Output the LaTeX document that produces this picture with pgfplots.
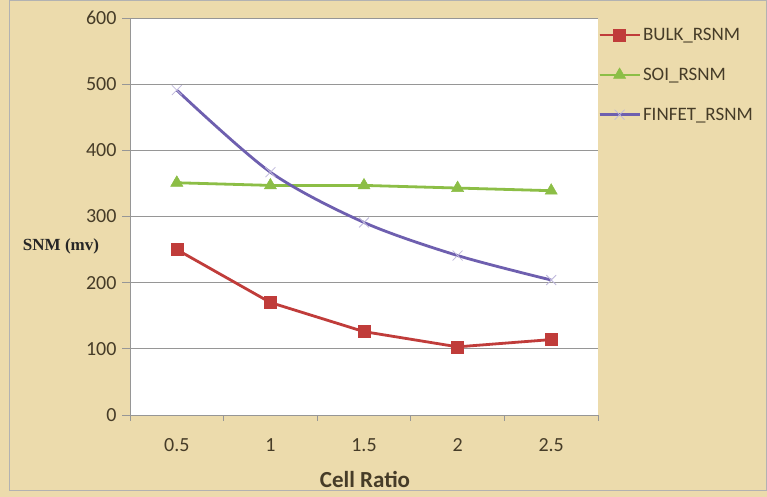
\documentclass[border=0pt]{standalone}
\usepackage{pgfplots}
\pgfplotsset{compat=1.18}
\usepackage{fontspec}
\setmainfont{Carlito}
\newfontfamily\serifb{Liberation Serif}
\definecolor{parch}{RGB}{236,219,172}
\definecolor{bulk}{RGB}{192,60,58}
\definecolor{soi}{RGB}{140,190,70}
\definecolor{finfet}{RGB}{110,95,175}
\definecolor{gridc}{RGB}{150,150,150}
\definecolor{txt}{RGB}{70,60,40}
\begin{document}
\begin{tikzpicture}[x=1pt,y=1pt]
\path[use as bounding box] (0,0) rectangle (767,497);
\fill[parch] (0,0) rectangle (767,497);
\draw[gray!60, line width=1pt] (9.5,6.5) rectangle (766.5,496.5);
\begin{axis}[
  at={(130pt,82pt)}, anchor=south west,
  scale only axis, width=468pt, height=397pt,
  xmin=-0.5, xmax=4.5, ymin=0, ymax=600,
  axis background/.style={fill=white},
  axis x line*=bottom, axis y line*=left,
  axis line style={gridc, line width=0.8pt},
  xtick={0,1,2,3,4},
  xticklabels={0.5,1,1.5,2,2.5},
  minor xtick={-0.5,0.5,1.5,2.5,3.5,4.5},
  major x tick style={draw=none},
  minor x tick style={gridc, line width=0.8pt},
  ytick={0,100,...,600},
  ymajorgrids,
  major grid style={gridc, line width=0.8pt},
  y tick style={gridc, line width=0.8pt},
  tick align=outside,
  major tick length=8pt, minor tick length=6pt,
  tick label style={font=\fontsize{20}{22}\selectfont, text=txt},
  /pgf/number format/assume math mode=true,
  yticklabel style={xshift=-2pt},
  xticklabel style={yshift=-12pt},
  legend style={at={(1.0,0.985)}, anchor=north west, draw=none, fill=none,
    font=\fontsize{19}{22}\selectfont, text=txt, row sep=22pt, inner xsep=0pt},
  legend cell align=left,
  legend image code/.code={
    \draw[#1] (0pt,0pt) -- (40pt,0pt);
    \draw[#1, mark repeat=2, mark phase=2] plot coordinates {(0pt,0pt) (20pt,0pt) (40pt,0pt)};
  },
]
\addplot[bulk, line width=2.8pt, mark=square*, mark size=6pt, mark options={fill=bulk, line width=0.5pt}]
  coordinates {(0,250) (1,170) (2,126) (3,103) (4,114)};
\addlegendentry{BULK\_RSNM}
\addplot[soi, line width=2.8pt, mark=triangle*, mark size=7pt, mark options={fill=soi, line width=0.5pt}]
  coordinates {(0,351) (1,347) (2,347) (3,343) (4,339)};
\addlegendentry{SOI\_RSNM}
\addplot[finfet, line width=2.8pt, smooth, mark=x, mark size=7pt, mark options={draw=finfet!45, line width=0.8pt}]
  coordinates {(0,491) (1,367) (2,291) (3,241) (4,204)};
\addlegendentry{FINFET\_RSNM}
\end{axis}
\node[font=\serifb\bfseries\fontsize{17}{19}\selectfont, text=black!85] at (61,251) {SNM (mv)};
\node[font=\bfseries\fontsize{23}{26}\selectfont, text=txt] at (365,18) {Cell Ratio};
\end{tikzpicture}
\end{document}
